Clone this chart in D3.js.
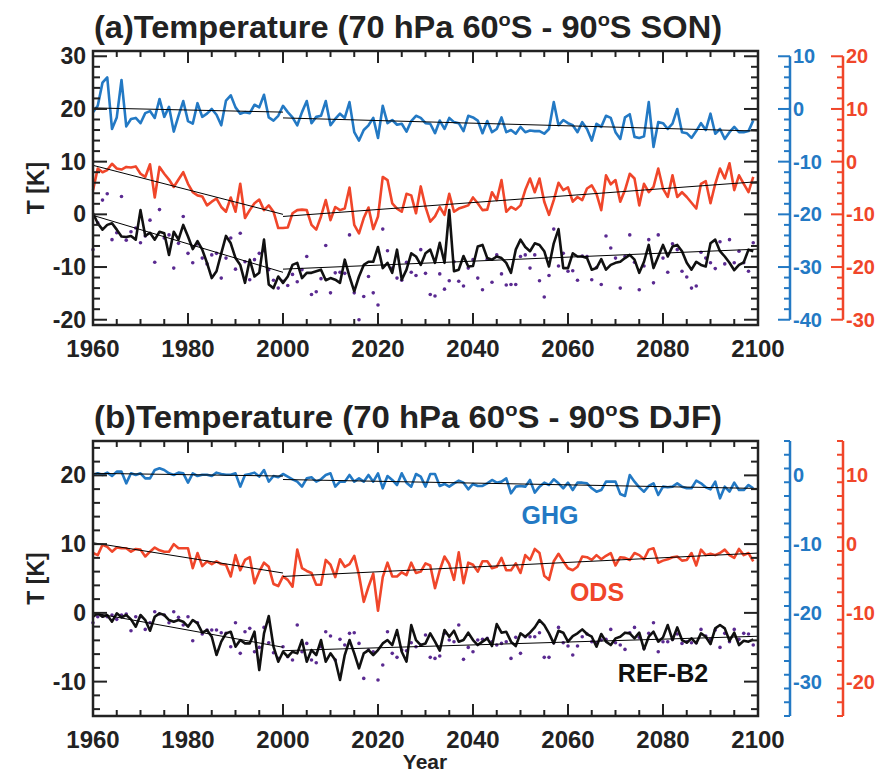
<!DOCTYPE html>
<html><head><meta charset="utf-8">
<script src="https://cdn.jsdelivr.net/npm/d3@7"></script>
<style>
body{margin:0;background:#fff;}
text{font-family:"Liberation Sans",Arial,sans-serif;font-weight:bold;}
</style></head>
<body><svg id="chart" width="879" height="776"></svg>
<script>
// all values in left-axis units (K), one per year 1960..2099
var years = d3.range(1960, 2100);

var ghgA = [19.4,20.6,25,26,16.2,18.4,25.5,16.7,18.1,18.3,17.3,19.2,19.6,18.3,21.9,18.5,20.4,15.7,18.7,21.5,
 17.7,17.2,21.1,18.5,19.1,20,18.9,16.9,21.6,22.6,20.3,19.1,19.4,19.2,20.8,20.3,22.7,18.4,17.8,18.7,
 20.6,19.4,18.4,16.9,19.4,21.5,17.3,18.5,18.7,21.5,16.9,18.1,19.1,18.3,21.3,15.6,14,16,16.9,18.3,
 14.5,20.6,17.3,17.9,17,17.2,15.7,17.7,18.7,18.3,17.3,
 17.2,15.4,17.8,16.2,18.3,17.5,17.3,15.8,18.7,18.4,17.8,15.4,17.7,15.6,16.2,18.4,15.6,16,15.3,16.6,
 15.6,15.9,15.8,15.8,15.3,16.2,21.3,16.9,17.9,17.3,16.9,15.6,17.5,16.2,14,17.2,16.6,18.7,18.3,15.6,
 14.3,18.4,19,14.7,14.5,14.8,21.3,12.8,17.5,17.3,16.2,17.2,20,15.6,15.4,14.5,15.8,17.3,16,19.1,
 15.3,16.2,14.3,15.6,16.6,15.6,15.6,15.8,17.8];
var odsA = [4.6,8.7,8,8.4,9.6,8.7,8.5,9,8.9,9.1,7.7,7.1,9.5,3.2,9,7.7,6.6,5.2,6.6,8,
 5.8,4.2,3.6,3.4,1.7,2.4,3,1.4,0.5,3.2,0.5,5.8,-0.7,0.8,2.1,2.8,0.8,1.7,0.5,-2.6,
 -2.6,-2.5,0.2,0.8,0.9,0.8,-2,-2.9,-0.4,2.7,-1.1,1.4,0.8,1.1,5.1,-2,-3.6,-0.7,1.3,-2.8,
 -0.4,7.1,6.5,2.1,1.1,0.5,3.9,3.6,0.2,5.3,1.4,
 -1.4,-0.4,1.4,-0.1,3.9,0.5,1.1,1.4,1.7,3.2,2.1,0.8,0.9,4.2,2.7,6.5,0.5,1.4,0.9,1.7,
 4.6,6.8,4.2,6.8,2.4,-0.1,2.7,6,4.6,5.1,2.4,3.3,2.7,4.9,5.5,3.9,0.8,7.4,5.7,6.5,
 2.4,4.6,7.7,6.8,1.7,5.8,4.2,5.2,8.7,4.9,3.3,7.4,3.3,4.2,3.3,2.2,1.1,5.8,6.3,2.1,
 5.8,8.7,6.8,9.7,4.6,7.4,5.8,4.2,7.1];
var refA = [0.2,-1.7,-2.9,-2,-1.7,-2.9,-4.2,-4.3,-4.1,-4.8,0.8,-4.1,-3.5,-4.8,-3.3,-3.6,-7.7,-3.3,-4.8,-2,
 -4.2,-6.6,-5.1,-6.7,-9.2,-12.1,-10.8,-7.4,-4.1,-5.5,-8.3,-9.6,-13,-8.6,-11.8,-11.1,-4.8,-13.3,-14,-11.8,
 -13,-11.8,-9.6,-9.2,-12.1,-11.1,-11.1,-10.8,-10.5,-12.5,-12.1,-12.4,-13,-8.6,-11.8,-14.6,-11.8,-9.6,-9,-9,
 -6.2,-10.2,-9.2,-11.1,-6.7,-12.4,-10.5,-7.4,-8,-9.6,-7.4,
 -6.7,-9.2,-5.4,-9.2,0.8,-10.8,-10.5,-7.9,-9.9,-9.8,-6.1,-5.8,-8.3,-8.6,-8,-8.3,-9.2,-11.1,-6.7,-4.8,
 -6.2,-7,-5.5,-5.8,-7,-9.9,-5.5,-2.8,-10.2,-10.2,-7.4,-8,-8,-8.3,-10.5,-10.2,-8.5,-10.5,-9.6,-9.2,
 -9,-8.3,-7.7,-8.6,-11.1,-9,-5.8,-10.2,-8,-5.8,-8,-6.1,-5.8,-7,-9.2,-10.5,-9,-9.6,-9.9,-5.5,
 -4.8,-7,-8,-9.2,-10.6,-9.6,-9.1,-6.7,-7];
var dotsA = [-6.7,-1.6,2.7,3.9,-4.8,-3.5,3.4,-4.9,-3.3,-2.6,-5.4,-4.1,-1.1,-9.1,0.9,-4.5,-3.9,-10.2,-5.5,-0.4,
 -7.4,-9.2,-5.6,-8.3,-9.4,-7.7,-7.4,-12.1,-8.3,-4.5,-10.4,-3.6,-9,-12.4,-8.6,-7.4,-6.9,-10.5,-12.5,-14,
 -12.7,-13.5,-11.4,-12.8,-10.5,-8,-15.2,-14.7,-12.2,-5.9,-14.9,-11.1,-11,-11.2,-3.9,-14.9,-20,-15.6,-11.8,-14.9,
 -17.2,-2.8,-6.9,-10.2,-12.1,-12.5,-9.1,-11,-11.6,-6.7,-11.2,-15.2,-15.5,
 -11.3,-14.2,-12.6,-9,-12.7,-13.6,-10.2,-8.6,-12.1,-14.3,-8.5,-12.9,-7.7,-11.3,-13.4,-13.3,-13.3,-8,-7.7,-10.2,
 -7.7,-12.6,-15.7,-11.6,-2.8,-9.8,-7.4,-10.8,-10.7,-12.5,-7.9,-8,-12.4,-10.1,-13.3,-4.1,-6.4,-8.3,-14,-8,
 -3.9,-9.1,-14.3,-9.8,-4.8,-13,-3.9,-8.3,-11,-5.6,-6.7,-10.8,-11.9,-14,-13.6,-7.2,-8.3,-9.2,-10.3,-5.2,
 -9.4,-4.8,-9.2,-7,-9.2,-10.8,-5.4];

var ghgB = [20.06,20.3,20.06,20.4,19.91,20.54,20.54,18.84,20.3,20.06,20.3,19.57,19.57,20.78,21.03,20.78,20.3,20.06,20.4,20.3,
 18.94,20.3,19.91,20.1,20.1,19.91,20.4,20.2,20.1,20.1,20.3,18.36,20.06,20.2,20.4,19.82,20.78,19.09,19.91,19.72,
 20.2,19.82,19.43,19.09,18.36,19.57,19.72,19.09,19.43,20.06,20.3,18.36,19.09,19.09,20.06,19.09,19.57,19.09,20.06,19.09,
 20.3,18.12,19.91,19.33,18.6,20.3,18.94,18.36,20.2,19.82,18.36,20.2,
 20.2,18.46,18.75,18.36,18.84,19.23,18.94,17.97,18.75,18.46,18.46,18.84,19.33,18.94,19.09,19.57,17.39,18.36,18.46,18.36,
 19.33,17.49,18.36,18.94,18.6,19.43,18.84,18.12,18.94,17.87,18.94,18.94,18.84,18.12,17.63,17.87,19.09,19.09,19.09,17.3,
 17.0,20.06,19.09,18.26,17.63,18.46,18.84,17.15,18.36,18.26,18.36,18.84,18.36,18.12,18.12,19.23,18.84,18.26,17.97,19.09,
 16.66,18.36,17.63,18.94,17.87,17.87,18.6,18.12];
var odsB = [8.7,8.4,9.9,9.6,8.9,9.5,9.4,9.4,8.9,9.3,9.2,8.2,8.9,9.5,9.1,8.9,8.9,10,9.4,9.4,
 9.4,6.5,8.7,6.8,7.5,7.1,7.5,7.1,7,5.3,8.4,6.2,7.7,8.1,4.3,6,7.3,6.7,4.2,3.9,
 5.3,4.8,3.8,9.2,6.5,6.1,5.8,4.1,4.1,7.7,7,5.2,7.8,6.7,7.1,8.3,5.5,1.6,3.8,5.7,
 0.3,5.2,7.3,5.3,5.3,5.9,5.5,7.3,5.8,6,7.2,
 6.9,3.6,6.2,8.2,7.1,4.8,8.8,4.3,7.3,7,6,7.5,7.5,6.5,6.7,8,6.2,6.2,7.2,5.8,
 8.4,7.7,9.3,8.7,5.4,4.8,7.5,8.6,7.5,6.5,6.2,6.7,8.2,8.1,7.7,8.4,7.8,8.3,8.7,6.9,
 8.1,8,7.7,8.7,8.4,7.8,9.2,9.4,7.3,7.6,7.8,8.1,8.2,7.6,7.7,8.7,6.9,9.2,8.4,8.6,
 8.4,8.7,9.2,8.4,8,9.3,8.4,8.7,7.5];
var refB = [-0.56,-0.07,-0.56,-0.31,-1.28,-0.07,-0.65,-0.31,-0.94,-2.01,-0.31,-1.04,-2.6,-0.56,-0.07,-0.31,-1.04,-1.28,-1.04,-1.28,
 -2.01,-1.04,-1.53,-2.88,-2.5,-3.47,-6.13,-4.19,-2.98,-2.74,-4.92,-3.95,-4.44,-4.44,-2.74,-8.32,-2.98,-0.46,-4.92,-7.1,
 -5.65,-6.38,-5.65,-5.89,-3.95,-7.1,-5.41,-6.13,-3.95,-7.1,-5.89,-6.86,-9.77,-6.13,-3.95,-5.89,-8.07,-5.89,-5.41,-6.13,
 -5.41,-4.44,-3.95,-4.68,-2.5,-5.65,-7.1,-1.77,-3.95,-4.68,-4.44,-2.98,
 -4.19,-5.5,-2.5,-3.47,-2.6,-4.19,-3.95,-2.88,-3.95,-4.68,-4.19,-3.71,-4.82,-1.62,-2.88,-2.74,-4.19,-4.82,-2.98,-3.47,
 -2.88,-2.11,-1.04,-1.77,-2.98,-4.44,-2.6,-2.88,-4.19,-3.37,-2.98,-2.4,-3.08,-3.47,-4.92,-3.08,-4.19,-4.68,-3.71,-3.47,
 -2.88,-2.98,-3.71,-2.88,-5.31,-3.47,-2.74,-4.19,-3.56,-1.77,-3.95,-2.11,-3.95,-4.34,-3.71,-4.44,-2.98,-3.47,-4.53,-2.25,
 -1.77,-2.25,-4.05,-2.88,-4.68,-4.05,-4.19,-3.85];
var dotsB = [-1.43,-0.56,-0.46,-0.56,-0.31,-0.94,-0.31,-0.17,-2.6,-0.56,-0.56,-2.4,-1.43,0.17,-0.17,-0.31,-1.43,0.17,-0.65,-1.77,
 -0.56,-4.05,-1.43,-3.08,-2.5,-2.5,-2.5,-2.88,-2.98,-4.92,-1.43,-5.89,-2.74,-2.25,-5.65,-5.02,-2.11,-4.34,-5.79,-6.62,
 -4.92,-6.38,-6.86,-1.77,-5.65,-4.44,-6.86,-7.25,-4.92,-2.74,-3.37,-6.86,-3.85,-4.68,-2.98,-2.88,-4.44,-9.53,-5.41,-5.65,
 -9.77,-7.59,-2.74,-5.89,-6.47,-5.41,-5.5,-4.34,-4.92,-4.68,-3.22,-6.47,
 -6.62,-6.28,-2.98,-3.95,-4.19,-1.77,-6.76,-5.02,-5.65,-3.95,-3.85,-3.71,-4.19,-4.68,-4.44,-4.19,-6.62,-3.56,-5.89,-3.47,
 -3.47,-3.47,-2.88,-6.47,-6.47,-4.34,-2.11,-4.34,-4.82,-6.13,-4.82,-3.47,-3.08,-4.19,-4.34,-3.95,-3.85,-2.4,-4.34,-4.68,
 -5.31,-2.88,-2.11,-3.56,-5.16,-2.98,-1.43,-5.65,-4.19,-4.19,-3.85,-3.08,-4.44,-4.19,-4.34,-4.34,-2.4,-3.37,-3.85,-2.5,
 -5.02,-2.98,-4.19,-2.4,-3.85,-2.98,-3.08,-4.68];

// trend segments: [value 1960, value 2000, value 2000, value 2100]
var trendA = {ghg:[20.2,19.4,18.3,15.8], ods:[9.3,0.0,-0.4,6.2], ref:[-0.2,-11,-10.4,-6.6]};
var trendB = {ghg:[20.3,19.9,19.4,18.1], ods:[10.2,5.8,5.3,8.7], ref:[0,-5,-5.5,-3.4]};

var blue = "#2379c4", red = "#f0462a", purple = "#5a2a91";
var svg = d3.select("#chart");
var x = d3.scaleLinear().domain([1960, 2100]).range([93, 758]);

function panel(cfg) {
  var y = d3.scaleLinear().domain(cfg.dom).range([cfg.bottom, cfg.top]);
  var g = svg.append("g");
  // plot data
  g.selectAll(".dot").data(cfg.dots).enter().append("circle")
    .attr("cx", (d, i) => x(years[i])).attr("cy", d => y(d)).attr("r", 1.8).attr("fill", purple);
  var line = d3.line().x((d, i) => x(years[i])).y(d => y(d));
  [[cfg.ghg, blue], [cfg.ods, red], [cfg.ref, "#111"]].forEach(function(s) {
    g.append("path").attr("d", line(s[0])).attr("fill", "none").attr("stroke", s[1])
      .attr("stroke-width", 2.6).attr("stroke-linejoin", "round");
  });
  ["ghg", "ods", "ref"].forEach(function(k) {
    var t = cfg.trend[k];
    g.append("line").attr("x1", x(1960)).attr("y1", y(t[0])).attr("x2", x(2000)).attr("y2", y(t[1]))
      .attr("stroke", "#000").attr("stroke-width", 1);
    g.append("line").attr("x1", x(2000)).attr("y1", y(t[2])).attr("x2", x(2100)).attr("y2", y(t[3]))
      .attr("stroke", "#000").attr("stroke-width", 1);
  });
  // box
  g.append("rect").attr("x", 93).attr("y", cfg.top).attr("width", 665).attr("height", cfg.bottom - cfg.top)
    .attr("fill", "none").attr("stroke", "#222").attr("stroke-width", 2.5);
  // x ticks top and bottom
  d3.range(1960, 2101, 5).forEach(function(yr) {
    var len = yr % 20 == 0 ? 12 : 6;
    g.append("line").attr("x1", x(yr)).attr("x2", x(yr)).attr("y1", cfg.bottom).attr("y2", cfg.bottom - len).attr("stroke", "#222").attr("stroke-width", 2);
    g.append("line").attr("x1", x(yr)).attr("x2", x(yr)).attr("y1", cfg.top).attr("y2", cfg.top + len).attr("stroke", "#222").attr("stroke-width", 2);
  });
  d3.range(1960, 2101, 20).forEach(function(yr) {
    g.append("text").attr("x", x(yr)).attr("y", cfg.bottom + 32).attr("text-anchor", "middle")
      .attr("font-size", 24).attr("fill", "#222").text(yr);
  });
  // left y ticks (and mirrored right)
  d3.range(Math.ceil(cfg.dom[0] / 2) * 2, cfg.dom[1] + 0.1, 2).forEach(function(v) {
    var len = v % 10 == 0 ? 14 : 7;
    g.append("line").attr("x1", 93).attr("x2", 93 + len).attr("y1", y(v)).attr("y2", y(v)).attr("stroke", "#222").attr("stroke-width", 2);
    g.append("line").attr("x1", 758).attr("x2", 758 - len).attr("y1", y(v)).attr("y2", y(v)).attr("stroke", "#222").attr("stroke-width", 2);
  });
  cfg.leftTicks.forEach(function(v) {
    g.append("text").attr("x", 86).attr("y", y(v) + 8).attr("text-anchor", "end")
      .attr("font-size", 23).attr("fill", "#222").text(v);
  });
  g.append("text").attr("transform", "translate(44," + ((cfg.top + cfg.bottom) / 2) + ") rotate(-90)")
    .attr("text-anchor", "middle").attr("font-size", 23).attr("fill", "#222").text("T [K]");
  // right colored axes
  [[790, blue, 20, cfg.blueTicks, cfg.blueSpan], [843, red, 10, cfg.redTicks, cfg.redSpan]].forEach(function(a) {
    var ax = a[0], col = a[1], off = a[2];
    g.append("line").attr("x1", ax).attr("x2", ax).attr("y1", y(a[4][0] + off)).attr("y2", y(a[4][1] + off))
      .attr("stroke", col).attr("stroke-width", 2.5);
    d3.range(a[4][0], a[4][1] + 0.1, 2).forEach(function(v) {
      var len = v % 10 == 0 ? 12 : 6;
      g.append("line").attr("x1", ax).attr("x2", ax - len).attr("y1", y(v + off)).attr("y2", y(v + off))
        .attr("stroke", col).attr("stroke-width", 2);
    });
    a[3].forEach(function(v) {
      g.append("text").attr("x", ax + 3).attr("y", y(v + off) + 7).attr("font-size", 20).attr("fill", col).text(v);
    });
  });
  // title
  var t = svg.append("text").attr("x", 94).attr("y", cfg.titleY).attr("font-size", 31).attr("fill", "#222")
    .attr("textLength", 628).attr("lengthAdjust", "spacingAndGlyphs");
  t.append("tspan").text(cfg.label + "Temperature (70 hPa 60");
  t.append("tspan").attr("dy", -12).attr("font-size", 19).text("o");
  t.append("tspan").attr("dy", 12).text("S - 90");
  t.append("tspan").attr("dy", -12).attr("font-size", 19).text("o");
  t.append("tspan").attr("dy", 12).text("S " + cfg.season + ")");
  return y;
}

panel({top: 51, bottom: 325, dom: [-21, 31], leftTicks: [-20, -10, 0, 10, 20, 30],
  ghg: ghgA, ods: odsA, ref: refA, dots: dotsA, trend: trendA,
  blueTicks: [-40, -30, -20, -10, 0, 10], blueSpan: [-40, 10],
  redTicks: [-30, -20, -10, 0, 10, 20], redSpan: [-30, 20],
  titleY: 38, label: "(a)", season: "SON"});
panel({top: 441, bottom: 716, dom: [-15, 25], leftTicks: [-10, 0, 10, 20],
  ghg: ghgB, ods: odsB, ref: refB, dots: dotsB, trend: trendB,
  blueTicks: [-30, -20, -10, 0], blueSpan: [-35, 5],
  redTicks: [-20, -10, 0, 10], redSpan: [-25, 15],
  titleY: 428, label: "(b)", season: "DJF"});

svg.append("text").attr("x", 550).attr("y", 524).attr("text-anchor", "middle").attr("font-size", 25).attr("fill", blue).text("GHG");
svg.append("text").attr("x", 597).attr("y", 601).attr("text-anchor", "middle").attr("font-size", 25).attr("fill", red).text("ODS");
svg.append("text").attr("x", 663).attr("y", 682).attr("text-anchor", "middle").attr("font-size", 25).attr("fill", "#111").text("REF-B2");
svg.append("text").attr("x", 425).attr("y", 769).attr("text-anchor", "middle").attr("font-size", 21).attr("fill", "#222").text("Year");
</script></body></html>
